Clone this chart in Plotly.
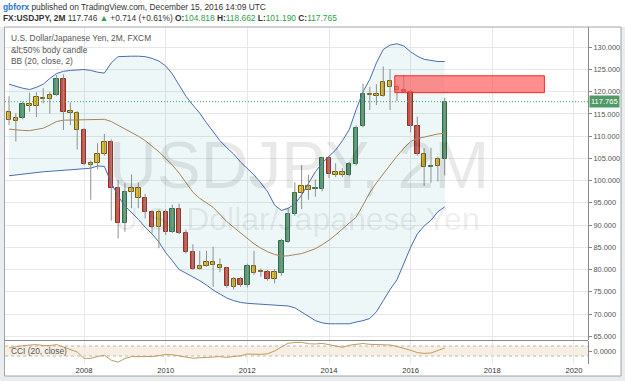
import plotly.graph_objects as go

# ---------------- data ----------------
dates = ["2006-03-01","2006-05-01","2006-07-01","2006-09-01","2006-11-01",
         "2007-01-01","2007-03-01","2007-05-01","2007-07-01","2007-09-01","2007-11-01",
         "2008-01-01","2008-03-01","2008-05-01","2008-07-01","2008-09-01","2008-11-01",
         "2009-01-01","2009-03-01","2009-05-01","2009-07-01","2009-09-01","2009-11-01",
         "2010-01-01","2010-03-01","2010-05-01","2010-07-01","2010-09-01","2010-11-01",
         "2011-01-01","2011-03-01","2011-05-01","2011-07-01","2011-09-01","2011-11-01",
         "2012-01-01","2012-03-01","2012-05-01","2012-07-01","2012-09-01","2012-11-01",
         "2013-01-01","2013-03-01","2013-05-01","2013-07-01","2013-09-01","2013-11-01",
         "2014-01-01","2014-03-01","2014-05-01","2014-07-01","2014-09-01","2014-11-01",
         "2015-01-01","2015-03-01","2015-05-01","2015-07-01","2015-09-01","2015-11-01",
         "2016-01-01","2016-03-01","2016-05-01","2016-07-01","2016-09-01","2016-11-01"]

opens = [115.5,113.5,114.0,117.2,116.8,118.7,118.3,119.3,122.9,115.7,115.3,
         111.5,103.6,103.9,106.0,108.6,98.3,90.5,97.5,98.3,96.0,92.9,89.6,
         92.9,88.5,93.6,88.2,83.9,80.2,80.8,81.6,81.0,80.3,76.0,77.9,
         76.5,80.9,79.6,79.4,77.8,79.3,86.3,92.4,97.2,98.9,98.1,98.1,
         105.0,101.3,101.9,101.3,103.7,112.3,119.6,119.4,119.1,122.4,121.0,120.3,
         120.0,112.4,106.0,103.0,103.2,104.818]
highs = [119.0,115.2,117.8,119.8,119.9,120.8,120.0,123.8,123.9,117.6,115.7,
         111.8,104.5,108.4,110.5,109.3,100.1,99.4,101.4,99.6,97.0,93.3,93.5,
         93.6,94.6,94.8,89.0,85.7,84.2,84.2,85.1,82.5,80.6,78.3,78.3,
         81.3,84.2,80.2,79.9,80.1,86.9,94.0,99.6,103.5,101.3,100.3,105.4,
         105.4,103.9,102.8,104.2,112.4,121.8,121.1,121.7,125.7,125.1,121.6,123.8,
         120.5,114.4,107.3,107.4,105.4,118.662]
lows = [112.5,108.8,113.8,115.5,114.3,117.4,115.1,119.0,111.4,112.5,107.0,
        103.5,95.7,102.6,105.6,91.0,87.0,88.5,93.8,93.8,91.5,88.2,84.8,
        87.8,88.2,88.0,83.6,79.9,80.0,80.6,76.1,79.4,75.9,75.5,76.1,
        76.0,78.8,78.4,77.5,76.9,78.6,86.0,92.1,93.6,95.7,96.4,97.6,
        100.6,100.8,100.8,101.0,103.4,112.0,115.9,117.0,118.9,115.9,117.9,119.9,
        110.9,105.6,98.8,99.5,99.8,101.190]
closes = [113.6,114.2,117.2,116.8,118.8,118.3,119.3,122.9,115.5,115.2,111.4,
          103.7,103.9,106.0,108.6,98.3,90.5,97.5,98.3,96.0,92.9,89.6,92.9,
          88.4,93.6,88.2,84.0,80.1,80.8,81.6,81.0,80.3,76.2,77.8,76.5,
          80.9,79.3,79.5,77.8,79.4,86.4,92.4,97.2,98.9,97.9,98.4,105.0,
          101.5,101.9,101.3,103.7,111.9,119.6,119.3,119.0,122.3,121.0,120.3,120.0,
          112.4,106.0,103.0,103.2,104.8,117.765]
# candle style class: G = green, R = red, Y = yellow (<50% body)
candle_kind = list("YYGYYYYGRYYRYYYRRGYYRRYRGRRRYYYYRYRGYYRYGGGYYGGRYYGGGYYYYYRRRYGYG")

bb_upper = [121.7,121.2,120.8,120.5,121.0,121.7,123.0,124.1,124.6,124.8,124.9,
            125.0,124.8,124.4,124.2,126.5,127.9,128.0,128.0,128.0,127.9,127.5,126.9,
            125.8,124.0,121.5,119.0,117.0,115.2,113.0,111.0,109.0,107.4,106.0,104.2,
            102.8,101.3,99.5,97.5,94.5,93.3,93.8,94.7,96.8,99.5,102.0,104.0,
            105.5,106.9,109.0,111.5,116.0,120.0,122.8,126.5,129.5,130.5,130.8,130.3,
            129.0,128.0,127.3,127.0,126.8,126.8]
bb_mid = [111.6,111.4,111.3,111.25,111.5,111.8,112.5,113.3,113.6,113.65,113.65,
          113.65,113.7,113.8,113.8,113.3,112.5,111.6,110.8,110.0,109.0,107.8,106.5,
          105.0,103.5,101.7,99.6,97.4,96.0,95.0,94.0,92.4,90.8,89.5,88.2,
          86.9,85.8,84.8,84.0,83.4,83.0,83.1,83.3,83.6,84.1,84.7,85.6,
          86.6,87.8,89.2,90.5,91.8,94.5,97.3,99.5,101.6,103.5,105.5,107.3,
          108.8,109.5,109.8,110.2,110.5,110.7]
bb_lower = [101.1,101.3,101.5,101.7,101.8,102.0,102.1,102.2,102.3,102.4,102.5,
            102.6,102.8,103.3,103.2,99.5,96.5,94.3,92.8,91.3,89.5,88.0,86.2,
            83.8,82.0,80.0,79.2,78.4,77.5,76.5,75.4,74.5,73.6,73.0,72.6,
            72.4,72.3,72.2,72.1,72.0,72.0,71.8,71.4,70.5,69.5,68.5,68.0,
            67.8,67.8,67.8,67.8,68.2,68.5,69.0,70.5,73.0,75.5,77.7,81.5,
            85.0,88.0,89.8,91.1,93.0,94.1]
cci = [60,85,105,120,127,110,107,130,75,33,-20,
       -147,-147,-110,-85,-185,-222,-150,-113,-113,-113,-110,-93,
       -70,-75,-95,-130,-145,-135,-127,-120,-113,-127,-110,-95,
       -60,-63,-67,-55,0,80,155,170,173,145,140,153,
       125,100,73,115,140,150,133,133,130,120,90,60,
       15,-33,-47,-40,15,60]

year_ticks = ["2008-01-01","2010-01-01","2012-01-01","2014-01-01","2016-01-01","2018-01-01","2020-01-01"]
year_labels = ["2008","2010","2012","2014","2016","2018","2020"]
price_ticks = [65,70,75,80,85,90,95,100,105,110,115,120,125,130]

zone_start, zone_end = "2015-08-12", "2019-04-12"
zone_low, zone_high = 119.8, 123.6

# ---------------- styling helpers ----------------
W, H = 625, 381
ML, MR, MT, MB = 5, 37, 27, 17
PW, PH = W - ML - MR, H - MT - MB

def px(x):
    return (x - ML) / PW

def py(y):
    return (H - MB - y) / PH

FONT = "Liberation Sans, Arial, sans-serif"
fill_col = {"G": "#5a9e6e", "R": "#e24a3b", "Y": "#f6c21e"}
line_col = {"G": "#2e6b43", "R": "#9e2a1e", "Y": "#7a5a00"}

fig = go.Figure()

# Bollinger band fill + lines
fig.add_trace(go.Scatter(x=dates, y=bb_lower, mode="lines",
                         line=dict(color="#4a6cb3", width=1), hoverinfo="skip",
                         xaxis="x", yaxis="y"))
fig.add_trace(go.Scatter(x=dates, y=bb_upper, mode="lines", fill="tonexty",
                         fillcolor="rgba(0,140,150,0.07)",
                         line=dict(color="#4a6cb3", width=1), hoverinfo="skip",
                         xaxis="x", yaxis="y"))
fig.add_trace(go.Scatter(x=dates, y=bb_mid, mode="lines",
                         line=dict(color="#a5865a", width=1), hoverinfo="skip",
                         xaxis="x", yaxis="y"))

# wicks
wx, wy = [], []
for d, h, l in zip(dates, highs, lows):
    wx += [d, d, None]
    wy += [l, h, None]
fig.add_trace(go.Scatter(x=wx, y=wy, mode="lines", line=dict(color="#909090", width=1),
                         hoverinfo="skip", xaxis="x", yaxis="y"))

# bodies
bw = 0.64 * 61 * 86400000
fig.add_trace(go.Bar(x=dates,
                     y=[c - o for o, c in zip(opens, closes)],
                     base=opens,
                     width=bw,
                     marker=dict(color=[fill_col[k] for k in candle_kind],
                                 line=dict(color=[line_col[k] for k in candle_kind], width=1)),
                     hoverinfo="skip", xaxis="x", yaxis="y"))

# CCI
fig.add_trace(go.Scatter(x=dates, y=cci, mode="lines",
                         line=dict(color="#c29a5c", width=1), hoverinfo="skip",
                         xaxis="x2", yaxis="y2"))

shapes = []
# outer light strips
for x0, y0, x1, y1 in [(0, 27, 4, 381), (0, 376, 625, 381), (621, 27, 625, 381)]:
    shapes.append(dict(type="rect", xref="paper", yref="paper", x0=px(x0), x1=px(x1),
                       y0=py(y1), y1=py(y0), fillcolor="#e9edf0", line=dict(width=0),
                       layer="below"))
# frame
shapes.append(dict(type="rect", xref="paper", yref="paper", x0=px(4.5), x1=px(621),
                   y0=py(376), y1=py(27), line=dict(color="#a0a4a8", width=1)))
# pane separator
shapes.append(dict(type="line", xref="paper", yref="paper", x0=px(4.5), x1=1,
                   y0=py(340.5), y1=py(340.5), line=dict(color="#8a8a8a", width=1)))
# resistance zone
shapes.append(dict(type="rect", xref="x", yref="y", x0=zone_start, x1=zone_end,
                   y0=zone_low, y1=zone_high, fillcolor="rgba(255,90,90,0.68)",
                   line=dict(color="#ff2a2a", width=1)))
# last price line
shapes.append(dict(type="line", xref="paper", yref="y", x0=0, x1=1,
                   y0=closes[-1], y1=closes[-1],
                   line=dict(color="#3fae62", width=1, dash="1px,2px")))
# CCI band
shapes.append(dict(type="rect", xref="paper", yref="y2", x0=0, x1=1, y0=-100, y1=100,
                   fillcolor="#f7efe3", line=dict(width=0), layer="below"))
for lv in (-100, 100):
    shapes.append(dict(type="line", xref="paper", yref="y2", x0=0, x1=1, y0=lv, y1=lv,
                       line=dict(color="#b8b8b8", width=1, dash="dot"), layer="below"))

annotations = []
def txt(x, y, text, size=8.4, color="#333", anchor="left", **kw):
    annotations.append(dict(xref="paper", yref="paper", x=px(x), y=py(y), text=text,
                            showarrow=False, xanchor=anchor, yanchor="middle",
                            font=dict(family=FONT, size=size, color=color), **kw))

# watermark first (drawn beneath other annotations)
txt(299, 165, "USDJPY, 2M", size=66, color="rgba(0,0,0,0.085)", anchor="center")
txt(297, 219, "U.S. Dollar/Japanese Yen", size=32, color="rgba(0,0,0,0.085)", anchor="center")

G = "#2da14a"
txt(1, 7, "<span style='color:#2a74c9'><b>gbforx</b></span> published on TradingView.com, December 15, 2016 14:09 UTC")
txt(1, 18.5, "<b>FX:USDJPY, 2M</b> 117.746 <span style='color:%s'>▲</span> +0.714 (+0.61%%) "
    "<b>O:</b><span style='color:%s'>104.818</span> <b>H:</b><span style='color:%s'>118.662</span> "
    "<b>L:</b><span style='color:%s'>101.190</span> <b>C:</b><span style='color:%s'>117.765</span>" % (G, G, G, G, G))
txt(9, 38, "U.S. Dollar/Japanese Yen, 2M, FXCM", color="#555")
txt(9, 50, "&amp;lt;50% body candle", color="#555")
txt(9, 61, "BB (20, close, 2)", color="#555")
txt(9, 351, "CCI (20, close)", color="#555")
# last price label
annotations.append(dict(xref="paper", yref="y", x=1, y=closes[-1], text="%.3f" % closes[-1],
                        showarrow=False, xanchor="left", yanchor="middle", xshift=1,
                        bgcolor="#4f9a66", borderpad=1,
                        font=dict(family=FONT, size=7.5, color="white")))

fig.update_layout(
    width=W, height=H, margin=dict(l=ML, r=MR, t=MT, b=MB),
    paper_bgcolor="white", plot_bgcolor="white", showlegend=False,
    barmode="overlay", bargap=0,
    shapes=shapes, annotations=annotations,
    xaxis=dict(domain=[0, 1], anchor="y", range=["2006-01-24", "2020-05-06"], type="date",
               matches="x2", showticklabels=False, tickvals=year_ticks,
               showgrid=True, gridcolor="#e8e8e8", zeroline=False, showline=False),
    yaxis=dict(domain=[py(340), 1], anchor="x", side="right", range=[64.15, 134.57],
               tickvals=price_ticks, ticktext=["%.3f" % v for v in price_ticks],
               showgrid=True, gridcolor="#e8e8e8", zeroline=False,
               showline=True, linecolor="#888", ticks="outside", ticklen=3, tickcolor="#888",
               tickfont=dict(family=FONT, size=7.4, color="#555")),
    xaxis2=dict(domain=[0, 1], anchor="y2", range=["2006-01-24", "2020-05-06"], type="date",
                tickvals=year_ticks, ticktext=year_labels, showgrid=True, gridcolor="#e8e8e8",
                zeroline=False, showline=False, ticks="",
                tickfont=dict(family=FONT, size=7.6, color="#333")),
    yaxis2=dict(domain=[0, py(341)], anchor="x2", side="right", range=[-260, 200],
                tickvals=[0], ticktext=["0.0000"], showgrid=False, zeroline=False,
                showline=True, linecolor="#888", ticks="outside", ticklen=3, tickcolor="#888",
                tickfont=dict(family=FONT, size=7.4, color="#555")),
)

fig.write_html("out.html")
